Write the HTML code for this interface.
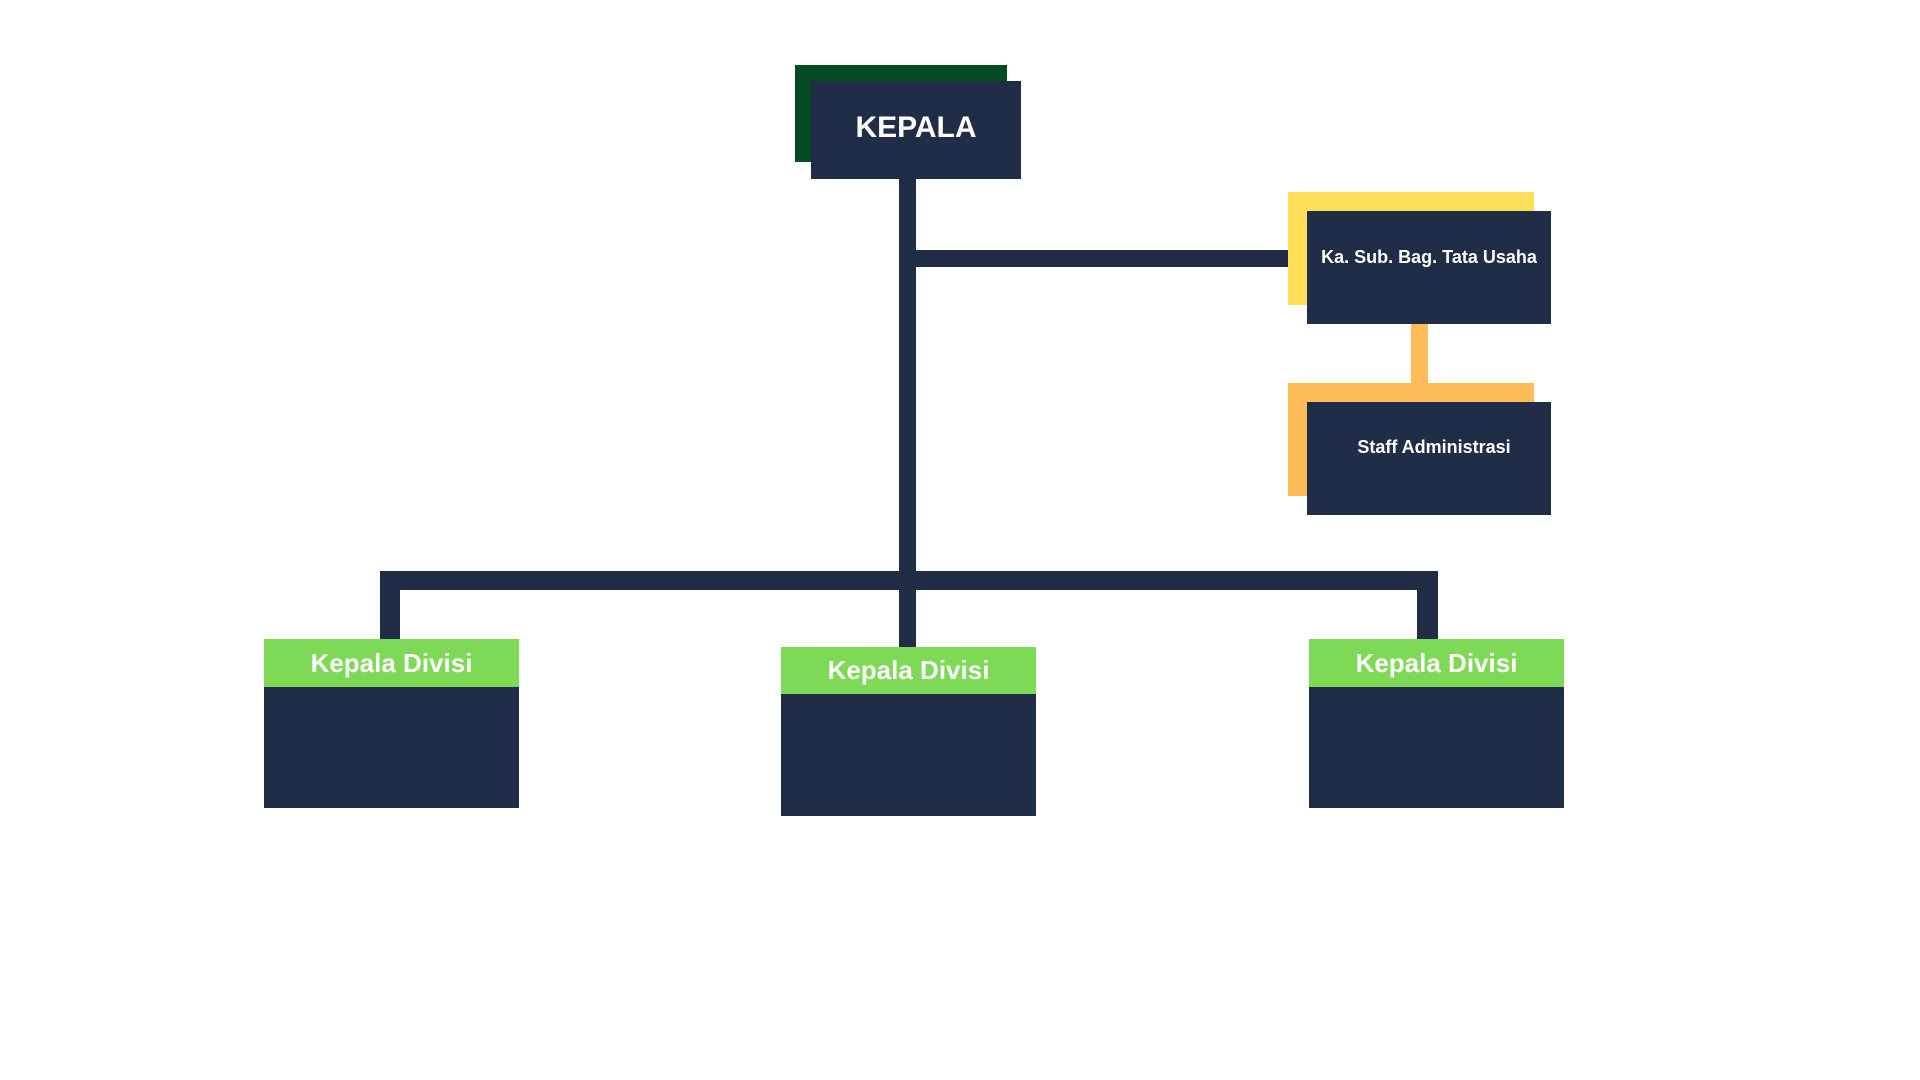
<!DOCTYPE html>
<html><head><meta charset="utf-8"><style>
body{margin:0;width:1920px;height:1080px;background:#fff;position:relative;overflow:hidden;font-family:"Liberation Sans",sans-serif;}
div{position:absolute;box-sizing:border-box;}
.d{background:#212c47;}
.t{color:#fff;font-weight:bold;display:flex;align-items:center;justify-content:center;text-align:center;white-space:nowrap;}
.g{background:#7ed957;color:#fff;font-weight:bold;font-size:26px;display:flex;align-items:center;justify-content:center;}
</style></head><body>
<div style="left:795px;top:65px;width:212px;height:97px;background:#064a23"></div>
<div class="d t" style="left:811px;top:81px;width:210px;height:98px;font-size:30px;padding-bottom:4px">KEPALA</div>
<div class="d" style="left:899px;top:179px;width:17px;height:468px"></div>
<div class="d" style="left:916px;top:250px;width:372px;height:17px"></div>
<div style="left:1288px;top:192px;width:246px;height:113px;background:#ffde59"></div>
<div class="d t" style="left:1307px;top:211px;width:244px;height:113px;font-size:18px;align-items:flex-start;padding-top:36px">Ka. Sub. Bag. Tata Usaha</div>
<div style="left:1411px;top:324px;width:17px;height:59px;background:#ffbd59"></div>
<div style="left:1288px;top:383px;width:246px;height:113px;background:#ffbd59"></div>
<div class="d t" style="left:1307px;top:402px;width:244px;height:113px;font-size:18px;align-items:flex-start;padding-top:35px;padding-left:10px">Staff Administrasi</div>
<div class="d" style="left:380px;top:571px;width:1058px;height:19px"></div>
<div class="d" style="left:380px;top:571px;width:20px;height:70px"></div>
<div class="d" style="left:1417px;top:571px;width:21px;height:70px"></div>
<div class="g" style="left:264px;top:639px;width:255px;height:48px">Kepala Divisi</div>
<div class="d" style="left:264px;top:687px;width:255px;height:121px"></div>
<div class="g" style="left:781px;top:647px;width:255px;height:47px">Kepala Divisi</div>
<div class="d" style="left:781px;top:694px;width:255px;height:122px"></div>
<div class="g" style="left:1309px;top:639px;width:255px;height:48px">Kepala Divisi</div>
<div class="d" style="left:1309px;top:687px;width:255px;height:121px"></div>
</body></html>
